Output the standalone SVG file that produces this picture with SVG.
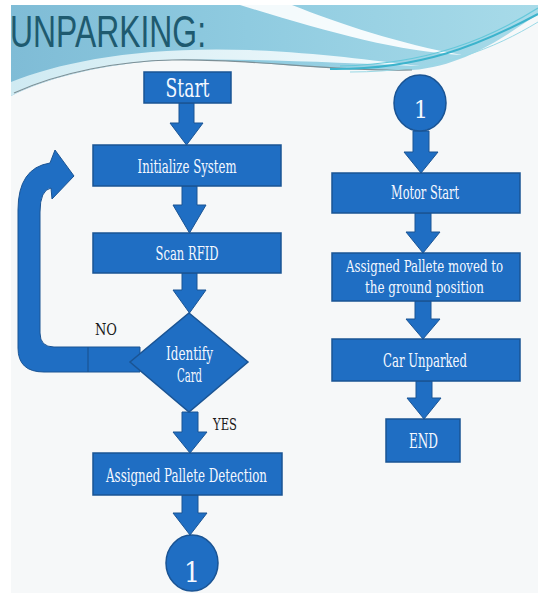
<svg xmlns="http://www.w3.org/2000/svg" width="538" height="593" viewBox="0 0 538 593">
<defs>
<linearGradient id="hdr" x1="0" y1="0" x2="1" y2="0">
<stop offset="0" stop-color="#7fbcd6"/>
<stop offset="0.45" stop-color="#8fcbe0"/>
<stop offset="1" stop-color="#a8dbe9"/>
</linearGradient>
<linearGradient id="swoosh" x1="0" y1="0" x2="1" y2="0">
<stop offset="0" stop-color="#cfeaf2"/>
<stop offset="1" stop-color="#f4fbfd"/>
</linearGradient>
<style>
.box{fill:#1f6ec3;stroke:#1a5494;stroke-width:1.5}
.arr{fill:#1f6ec3;stroke:#1a5494;stroke-width:1}
.lbl{font-family:"DejaVu Serif Condensed","DejaVu Serif","Liberation Serif",serif;fill:#f4f8ff;text-anchor:middle;font-size:18px}
.note{font-family:"DejaVu Serif Condensed","DejaVu Serif","Liberation Serif",serif;fill:#1a1a1a;text-anchor:middle;font-size:17px}
</style>
</defs>
<rect x="0" y="0" width="538" height="593" fill="#ffffff"/>
<rect x="11" y="5" width="527" height="588" fill="#f6f8f9"/>
<g id="header">
<path d="M11,5 L538,5 L538,14 C505,36 465,66 412,70 C330,72 240,58 172,60 C100,63 42,80 11,96 Z" fill="url(#hdr)"/>
<path d="M11,82 C60,62 140,46 250,50 C320,53 370,60 420,66 C340,63 250,58 172,60 C100,63 42,80 11,96 Z" fill="url(#swoosh)"/>
<path d="M240,5 L292,5 C340,24 400,44 462,55 C398,52 320,30 240,5 Z" fill="#ffffff" opacity="0.9"/>
<path d="M14,93 C60,72 120,61 172,60 C250,58 330,72 412,70" fill="none" stroke="#7c8f96" stroke-width="1.2"/>
<path d="M330,69 C420,70 480,45 538,14" fill="none" stroke="#3cb3cc" stroke-width="2"/>
<path d="M340,66 C430,64 490,38 538,8" fill="none" stroke="#66c8da" stroke-width="1.2"/>
<path d="M350,72 C440,72 495,48 538,22" fill="none" stroke="#9ad9e6" stroke-width="1"/>
<text x="10" y="47" font-family="'Liberation Sans','DejaVu Sans',sans-serif" font-size="45" fill="#1e5a6f" textLength="196" lengthAdjust="spacingAndGlyphs">UNPARKING:</text>
</g>
<g id="connectors">
<polygon class="arr" points="179,103 194,103 194,123 203,123 186.5,145 170,123 179,123"/>
<polygon class="arr" points="182,186 197,186 197,205 206,205 189.5,233 173,205 182,205"/>
<polygon class="arr" points="182,273 197,273 197,290 206,290 189.5,313 173,290 182,290"/>
<polygon class="arr" points="182,412 198,412 198,432 207,432 190,453 173,432 182,432"/>
<polygon class="arr" points="182,495 198,495 198,513 207,513 190,535 173,513 182,513"/>
<polygon class="arr" points="413,131 429,131 429,152 438,152 421,173 404,152 413,152"/>
<polygon class="arr" points="415,213 431,213 431,232 440,232 423,253 406,232 415,232"/>
<polygon class="arr" points="415,301 431,301 431,319 440,319 423,339 406,319 415,319"/>
<polygon class="arr" points="416,381 432,381 432,398 441,398 424,419 407,398 416,398"/>
<path class="arr" d="M140,347 L54,347 Q40,347 40,333 L40,212 Q40,190 51,188 L52,199 L74,176 L55,150 L50,163 Q18,168 18,210 L18,348 Q18,372 44,372 L140,372 Z"/>
<line x1="88" y1="347" x2="88" y2="372" stroke="#1a5494" stroke-width="1.2"/>
<text class="note" x="106" y="335" textLength="22" lengthAdjust="spacingAndGlyphs">NO</text>
<text class="note" x="225" y="430" textLength="24" lengthAdjust="spacingAndGlyphs">YES</text>
</g>
<g id="start">
<rect class="box" x="144" y="72" width="87" height="31"/>
<text class="lbl" x="187.5" y="97" style="font-size:26px" textLength="44" lengthAdjust="spacingAndGlyphs">Start</text>
</g>
<g id="init">
<rect class="box" x="93" y="145" width="188" height="41"/>
<text class="lbl" x="187" y="173" textLength="99" lengthAdjust="spacingAndGlyphs">Initialize System</text>
</g>
<g id="scan">
<rect class="box" x="93" y="233" width="188" height="40"/>
<text class="lbl" x="187" y="260" textLength="63" lengthAdjust="spacingAndGlyphs">Scan RFID</text>
</g>
<g id="identify">
<polygon class="box" points="189,313 248,362 189,412 130,362"/>
<text class="lbl" x="189.5" y="360" textLength="47" lengthAdjust="spacingAndGlyphs">Identify</text>
<text class="lbl" x="189.5" y="382" textLength="25" lengthAdjust="spacingAndGlyphs">Card</text>
</g>
<g id="detect">
<rect class="box" x="93" y="453" width="189" height="42"/>
<text class="lbl" x="186.5" y="482" textLength="161" lengthAdjust="spacingAndGlyphs">Assigned Pallete Detection</text>
</g>
<g id="conn1-out">
<ellipse class="box" cx="192" cy="563" rx="26" ry="28"/>
<text class="lbl" x="192" y="582" style="font-size:28px">1</text>
</g>
<g id="conn1-in">
<ellipse class="box" cx="420" cy="103" rx="26" ry="28"/>
<text class="lbl" x="421" y="118" style="font-size:25px">1</text>
</g>
<g id="motor">
<rect class="box" x="332" y="173" width="188" height="40"/>
<text class="lbl" x="425" y="199" textLength="68" lengthAdjust="spacingAndGlyphs">Motor Start</text>
</g>
<g id="moved">
<rect class="box" x="332" y="253" width="188" height="48"/>
<text class="lbl" x="424.5" y="272" style="font-size:16px" textLength="157" lengthAdjust="spacingAndGlyphs">Assigned Pallete moved to</text>
<text class="lbl" x="424.5" y="293" style="font-size:16px" textLength="119" lengthAdjust="spacingAndGlyphs">the ground position</text>
</g>
<g id="unparked">
<rect class="box" x="332" y="339" width="188" height="42"/>
<text class="lbl" x="425" y="367" textLength="84" lengthAdjust="spacingAndGlyphs">Car Unparked</text>
</g>
<g id="end">
<rect class="box" x="386" y="419" width="74" height="43"/>
<text class="lbl" x="423.5" y="448" style="font-size:20px" textLength="29" lengthAdjust="spacingAndGlyphs">END</text>
</g>
</svg>
